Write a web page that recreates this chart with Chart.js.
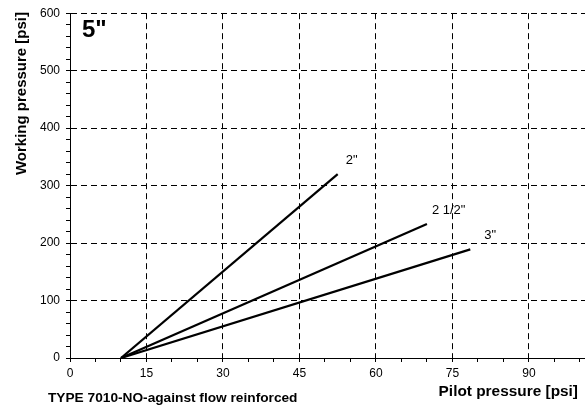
<!DOCTYPE html>
<html>
<head>
<meta charset="utf-8">
<script src="https://cdn.jsdelivr.net/npm/chart.js@4/dist/chart.umd.min.js"></script>
<style>
  html, body { margin: 0; padding: 0; background: #fff; }
  #wrap { width: 585px; height: 406px; position: relative; }
</style>
</head>
<body>
<div id="wrap"><canvas id="c" width="585" height="406"></canvas></div>
<script>
// ---- data ----
const seriesNames = ['2"', '2 1/2"', '3"'];
const pilot2 = [10, 52.5];
const work2 = [0, 320];
const pilot25 = [10, 70];
const work25 = [0, 233];
const pilot3 = [10, 78.5];
const work3 = [0, 189];
const xTickLabels = [0, 15, 30, 45, 60, 75, 90];
const yTickLabels = [0, 100, 200, 300, 400, 500, 600];
const sizeLabel = '5"';
const xTitle = 'Pilot pressure [psi]';
const yTitle = 'Working pressure [psi]';
const footer = 'TYPE 7010-NO-against flow reinforced';

const toPts = (xs, ys) => xs.map((x, i) => ({ x: x, y: ys[i] }));

const FONT = "'Liberation Sans', Arial, sans-serif";

const annot = {
  id: 'annot',
  afterDatasetsDraw(chart) {
    const ctx = chart.ctx;
    const xs = chart.scales.x, ys = chart.scales.y;
    ctx.save();
    ctx.fillStyle = '#000';
    // series labels near line ends
    const offs = [[8, -10], [5, -10], [14, -10]];
    ctx.font = '13px ' + FONT;
    ctx.textAlign = 'left';
    ctx.textBaseline = 'alphabetic';
    chart.data.datasets.forEach((ds, i) => {
      const last = ds.data[ds.data.length - 1];
      ctx.fillText(seriesNames[i], xs.getPixelForValue(last.x) + offs[i][0], ys.getPixelForValue(last.y) + offs[i][1]);
    });
    // size label
    ctx.font = 'bold 24px ' + FONT;
    ctx.fillText(sizeLabel, 82, 37);
    // x title
    ctx.font = 'bold 15.4px ' + FONT;
    ctx.textAlign = 'right';
    ctx.fillText(xTitle, 578, 396);
    // y title
    ctx.font = 'bold 15px ' + FONT;
    ctx.save();
    ctx.translate(25.5, 12);
    ctx.rotate(-Math.PI / 2);
    ctx.textAlign = 'right';
    ctx.fillText(yTitle, 0, 0);
    ctx.restore();
    // footer
    ctx.font = 'bold 13.7px ' + FONT;
    ctx.textAlign = 'left';
    ctx.fillText(footer, 48, 402);
    ctx.restore();
  }
};

const lineDs = (xs, ys) => ({
  data: toPts(xs, ys),
  borderColor: '#000',
  borderWidth: 2.2,
  pointRadius: 0,
  fill: false,
  tension: 0,
  showLine: true
});

new Chart(document.getElementById('c'), {
  type: 'scatter',
  data: {
    datasets: [lineDs(pilot2, work2), lineDs(pilot25, work25), lineDs(pilot3, work3)]
  },
  options: {
    responsive: false,
    animation: false,
    devicePixelRatio: 1,
    layout: { padding: { left: 0, right: 0, top: 12, bottom: 0 } },
    plugins: { legend: { display: false }, tooltip: { enabled: false } },
    scales: {
      x: {
        type: 'linear',
        min: 0,
        max: 101,
        afterFit: s => { s.height = 48; },
        ticks: {
          stepSize: 5,
          includeBounds: false,
          autoSkip: false,
          maxRotation: 0,
          padding: 4,
          color: '#000',
          font: { family: FONT, size: 12 },
          callback: v => xTickLabels.includes(v) ? String(v) : ''
        },
        grid: {
          color: c => (c.tick && c.tick.value > 0 && xTickLabels.includes(c.tick.value)) ? '#000' : 'rgba(0,0,0,0)',
          lineWidth: 1,
          drawTicks: true,
          tickLength: 4,
          tickColor: '#000',
          tickBorderDash: []
        },
        border: { display: true, color: '#000', width: 1, dash: [6, 4] }
      },
      y: {
        type: 'linear',
        min: 0,
        max: 600,
        afterFit: s => { s.width = 70; },
        ticks: {
          stepSize: 20,
          autoSkip: false,
          padding: 6,
          color: '#000',
          font: { family: FONT, size: 12 },
          callback: v => yTickLabels.includes(v) ? String(v) : ''
        },
        grid: {
          color: c => (c.tick && c.tick.value > 0 && yTickLabels.includes(c.tick.value)) ? '#000' : 'rgba(0,0,0,0)',
          lineWidth: 1,
          drawTicks: true,
          tickLength: 4,
          tickColor: '#000',
          tickBorderDash: []
        },
        border: { display: true, color: '#000', width: 1, dash: [6, 4] }
      }
    }
  },
  plugins: [annot]
});
</script>
</body>
</html>
